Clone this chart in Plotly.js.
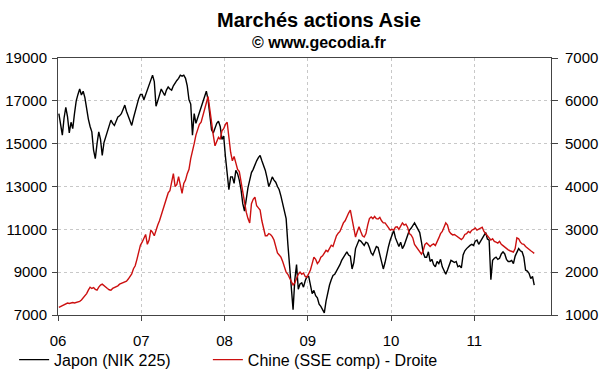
<!DOCTYPE html>
<html>
<head>
<meta charset="utf-8">
<script src="https://cdn.plot.ly/plotly-3.0.1.min.js"></script>
<style>html,body{margin:0;padding:0;background:#fff;}#chart{width:600px;height:372px;}</style>
</head>
<body>
<div id="chart"></div>
<script>
// Weekly-ish readings (4 per month), Nikkei 225 (left axis)
const nik2006 = [16400,15900,15400,16200, 16700,16250,15500,16000, 15700,16400,17000,17300, 17550,17270,17450,17150, 16600,16150,15800,15550, 14700,14300,15000,15550, 15200,14450,15050,15300, 15550,15800,16100,15950, 15850,16050,16250,16300, 16400,16600,16800,16500, 16250,16000,15850,16200, 16550,16850,17100,17300];
const nik2007 = [17300,17050,17300,17500, 17700,17950,18200,17900, 16750,17000,17350,17550, 17400,17250,17500,17650, 17550,17500,17700,17850, 17950,18050,18200,18150, 18200,18050,17700,17050, 16850,15400,16400,15950, 16200,16500,16750,17050, 17300,17450,17050,16400, 15650,15500,15700,15950, 16050,15800,15200,15350];
const nik2008 = [14400,13600,12850,13450, 13450,13150,13750,13600, 13300,12850,12200,11850, 12500,12950,13300,13650, 13800,14050,14200,14350, 14450,14200,14000,13750, 13400,13000,13200,13450, 13300,13200,13000,12850, 12550,12200,11900,11500, 10300,9300,8400,7250, 8650,9350,8200,8450, 8500,8300,8600,8800];
const nik2009 = [8800,8400,8000,8150, 7900,7800,7500,7400, 7250,7100,7650,8100, 8400,8650,8850,8900, 9050,9150,9350,9550, 9700,9850,9950,9800, 9750,9150,9450,10100, 10300,10500,10450,10350, 10250,10400,10350,10150, 9900,9800,10050,10200, 10150,9800,9550,9150, 9450,9900,10200,10500];
const nik2010 = [10700,10950,10600,10350, 10200,10400,10100,10250, 10500,10750,10950,11050, 11200,11300,11150,11000, 10850,10400,9900,9700, 9700,9950,9500,9600, 9350,9250,9500,9400, 9600,9250,9100,8900, 9100,9300,9550,9500, 9450,9500,9250,9300, 9200,9800,10000,10100, 10200,10250,10300,10250];
const nik2011 = [10450,10500,10300,10450, 10600,10700,10850,10550, 10500,8650,9550,9650, 9700,9600,9650,9850, 9950,9850,9600,9500, 9500,9550,9400,9750, 9900,10100,10000,9950, 9700,9100,9050,8950, 8700,8800,8400];

// Shanghai Composite (right axis)
const sse2006 = [1180,1200,1230,1250, 1270,1280,1270,1280, 1290,1280,1290,1300, 1320,1350,1400,1440, 1500,1580,1650,1620, 1640,1600,1580,1650, 1700,1720,1680,1650, 1620,1590,1580,1620, 1640,1660,1680,1720, 1740,1760,1780,1790, 1840,1900,1960,2080, 2150,2300,2450,2630];
const sse2007 = [2700,2800,2880,2650, 2750,2980,2930,2850, 3000,3100,3200,3330, 3450,3600,3760,3850, 3900,4150,4300,4000, 4050,4230,4000,3840, 4070,4150,4300,4400, 4650,4800,5000,5200, 5350,5450,5500,5650, 5800,6000,6100,5800, 5450,5200,4950,5050, 5150,5100,5300,5350];
const sse2008 = [5450,5500,5100,4800, 4600,4700,4550,4400, 4350,4100,3800,3650, 3400,3250,3150,3600, 3700,3750,3550,3500, 3450,3200,3000,2850, 2850,2900,2880,2830, 2750,2600,2450,2400, 2350,2250,2100,2000, 1950,1850,1780,1700, 1750,1850,1950,2000, 1950,1980,1900,1880];
const sse2009 = [1950,2050,2200,2350, 2300,2200,2250,2350, 2380,2450,2510,2480, 2550,2630,2600,2750, 2850,2910,2950,3050, 3150,3200,3300,3380, 3450,3250,3000,2820, 2950,3060,2950,2850, 2820,2900,3100,3250, 3290,3250,3300,3250, 3240,3280,3200,3150, 3150,3100,3050,2980];
const sse2010 = [3000,2980,3050,3060, 3000,3080,3150,3100, 3120,3050,2900,2870, 2800,2650,2590,2550, 2500,2420,2500,2650, 2680,2650,2600,2640, 2660,2620,2700,2800, 2900,2950,3050,3150, 3100,2950,2900,2870, 2880,2850,2800,2780, 2760,2800,2880,2900, 2950,2920,2980,3000];
const sse2011 = [3030,2980,3000,3030, 3050,2950,2910,2850, 2800,2750,2780,2720, 2700,2680,2720,2650, 2620,2580,2550,2520, 2500,2480,2470,2550, 2800,2780,2700,2660, 2650,2600,2560,2520, 2500,2470,2440];

const xTickVals = [2006, 2007, 2008, 2009, 2010, 2011];
const xTickText = ['06', '07', '08', '09', '10', '11'];
const yLeftTicks = [7000, 9000, 11000, 13000, 15000, 17000, 19000];
const yLeftText = ['7000', '9000', '11000', '13000', '15000', '17000', '19000'];
const yRightTicks = [1000, 2000, 3000, 4000, 5000, 6000, 7000];
const yRightText = ['1000', '2000', '3000', '4000', '5000', '6000', '7000'];
const seriesNames = ['Japon (NIK 225)', 'Chine (SSE comp) - Droite'];

const nikkei = [].concat(nik2006, nik2007, nik2008, nik2009, nik2010, nik2011);
const sse = [].concat(sse2006, sse2007, sse2008, sse2009, sse2010, sse2011);
// 4 readings per month -> 48 per year, starting Jan 2006
const xs = arr => arr.map((v, i) => 2006 + (i + 0.5) / 48);

const traces = [
  {x: xs(nikkei), y: nikkei, type: 'scatter', mode: 'lines', name: seriesNames[0],
   line: {color: '#000000', width: 1.4}, yaxis: 'y', legend: 'legend'},
  {x: xs(sse), y: sse, type: 'scatter', mode: 'lines', name: seriesNames[1],
   line: {color: '#cc1010', width: 1.4}, yaxis: 'y2', legend: 'legend2'}
];

const axisLine = '#444444';
const gridCol = '#c8c8c8';
const legendBase = {orientation: 'h', xanchor: 'left', y: -0.108, yanchor: 'top',
                    font: {size: 16, color: '#000000'}, bgcolor: 'rgba(0,0,0,0)'};
const layout = {
  width: 600, height: 372,
  margin: {l: 58, r: 49, t: 58, b: 57, pad: 0, autoexpand: false},
  paper_bgcolor: '#ffffff', plot_bgcolor: '#ffffff',
  font: {family: 'Liberation Sans, Arial, sans-serif', size: 15, color: '#000000'},
  showlegend: true,
  legend: Object.assign({}, legendBase, {x: -0.089}),
  legend2: Object.assign({}, legendBase, {x: 0.304}),
  xaxis: {range: [2006, 2011.92], tickmode: 'array', tickvals: xTickVals, ticktext: xTickText,
          showgrid: true, gridcolor: gridCol, griddash: 'dot', gridwidth: 1,
          showline: true, linecolor: axisLine, linewidth: 1, mirror: true,
          ticks: 'outside', ticklen: 5, tickcolor: axisLine, zeroline: false,
          ticklabelstandoff: 7, fixedrange: true},
  yaxis: {range: [7000, 19000], tickmode: 'array', tickvals: yLeftTicks, ticktext: yLeftText,
          showgrid: true, gridcolor: gridCol, griddash: 'dot', gridwidth: 1,
          showline: true, linecolor: axisLine, linewidth: 1,
          ticks: 'outside', ticklen: 5, tickcolor: axisLine, zeroline: false,
          ticklabelstandoff: 2},
  yaxis2: {range: [1000, 7000], tickmode: 'array', tickvals: yRightTicks, ticktext: yRightText,
           overlaying: 'y', side: 'right', showgrid: false,
           showline: true, linecolor: axisLine, linewidth: 1,
           ticks: 'outside', ticklen: 6, tickcolor: axisLine, zeroline: false,
           ticklabelstandoff: 4},
  annotations: [
    {text: 'Marchés actions Asie', xref: 'paper', yref: 'paper', x: 0.529, y: 1.146,
     xanchor: 'center', yanchor: 'middle', showarrow: false,
     font: {size: 20, weight: 'bold', color: '#000000'}},
    {text: '© www.gecodia.fr', xref: 'paper', yref: 'paper', x: 0.529, y: 1.062,
     xanchor: 'center', yanchor: 'middle', showarrow: false,
     font: {size: 16, weight: 'bold', color: '#000000'}}
  ]
};

Plotly.newPlot('chart', traces, layout, {staticPlot: true, displayModeBar: false});
</script>
</body>
</html>
